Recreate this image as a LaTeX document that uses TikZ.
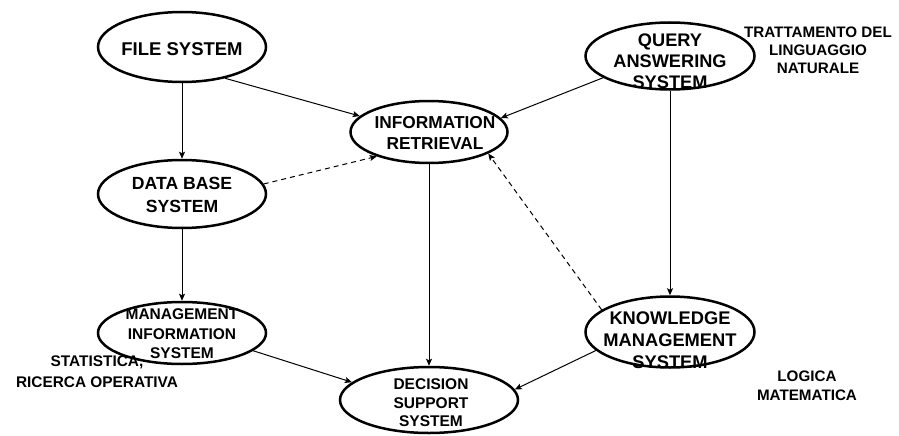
\documentclass[tikz,border=0pt]{standalone}
\usepackage{fontspec}
\setmainfont{Liberation Sans}
\usetikzlibrary{shapes.geometric,arrows.meta}
\begin{document}
\begin{tikzpicture}[x=1pt,y=-1pt,
  ell/.style={ellipse,draw=black,line width=2.5pt,inner sep=0pt},
  txt/.style={align=center,inner sep=0pt},
  conn/.style={-{Stealth[length=7pt,width=6pt,inset=1.5pt]},line width=1pt},
  dconn/.style={conn,dash pattern=on 5pt off 4pt}]
\useasboundingbox (0,0) rectangle (899,436);
\node[ell,minimum width=168pt,minimum height=70pt] (fs) at (182,47) {};
\node[txt,font=\bfseries\fontsize{18.5}{22}\selectfont] (fstext) at (182,49) {FILE SYSTEM};
\node[ell,minimum width=168pt,minimum height=68pt] (dbs) at (182,194) {};
\node[txt,font=\bfseries\fontsize{17.6}{22.6}\selectfont] (dbstext) at (182,195) {DATA BASE\\SYSTEM};
\node[ell,minimum width=168pt,minimum height=62pt] (mis) at (182,333) {};
\node[txt,font=\bfseries\fontsize{15.5}{19.5}\selectfont] (mistext) at (182,334) {MANAGEMENT\\INFORMATION\\SYSTEM};
\node[ell,minimum width=157pt,minimum height=62pt] (ir) at (429,132) {};
\node[txt,font=\bfseries\fontsize{17.3}{21}\selectfont] (irtext) at (435,133) {INFORMATION\\RETRIEVAL};
\node[ell,minimum width=178pt,minimum height=66pt] (dss) at (429,400) {};
\node[txt,font=\bfseries\fontsize{15.5}{18.5}\selectfont] (dsstext) at (431,403) {DECISION\\SUPPORT\\SYSTEM};
\node[ell,minimum width=169pt,minimum height=67pt] (qas) at (670,56) {};
\node[txt,font=\bfseries\fontsize{18.2}{21}\selectfont] (qastext) at (670,61) {QUERY\\ANSWERING\\SYSTEM};
\node[ell,minimum width=169pt,minimum height=71pt] (kms) at (670,332) {};
\node[txt,font=\bfseries\fontsize{18.3}{22}\selectfont] (kmstext) at (670,340) {KNOWLEDGE\\MANAGEMENT\\SYSTEM};
% discipline labels
\node[txt,font=\bfseries\fontsize{15.2}{18}\selectfont] (tln) at (818,50) {TRATTAMENTO DEL\\LINGUAGGIO\\NATURALE};
\node[txt,font=\bfseries\fontsize{15.4}{21}\selectfont] (sro) at (97,372) {STATISTICA,\\RICERCA OPERATIVA};
\node[txt,font=\bfseries\fontsize{15.2}{19}\selectfont] (lm) at (807,386) {LOGICA\\MATEMATICA};
% connectors
\draw[conn] (fs.south) -- (dbs.north);
\draw[conn] (fs.-36) -- (ir.167);
\draw[dconn] (dbs.7) -- (ir.205);
\draw[conn] (dbs.south) -- (mis.north);
\draw[conn] (mis.-14) -- (dss.167);
\draw[conn] (ir.south) -- (dss.north);
\draw[conn] (qas.198) -- (ir.11);
\draw[conn] (qas.south) -- (kms.north);
\draw[dconn] (kms.162) -- (ir.-20);
\draw[conn] (kms.194) -- (dss.7);
\end{tikzpicture}
\end{document}
